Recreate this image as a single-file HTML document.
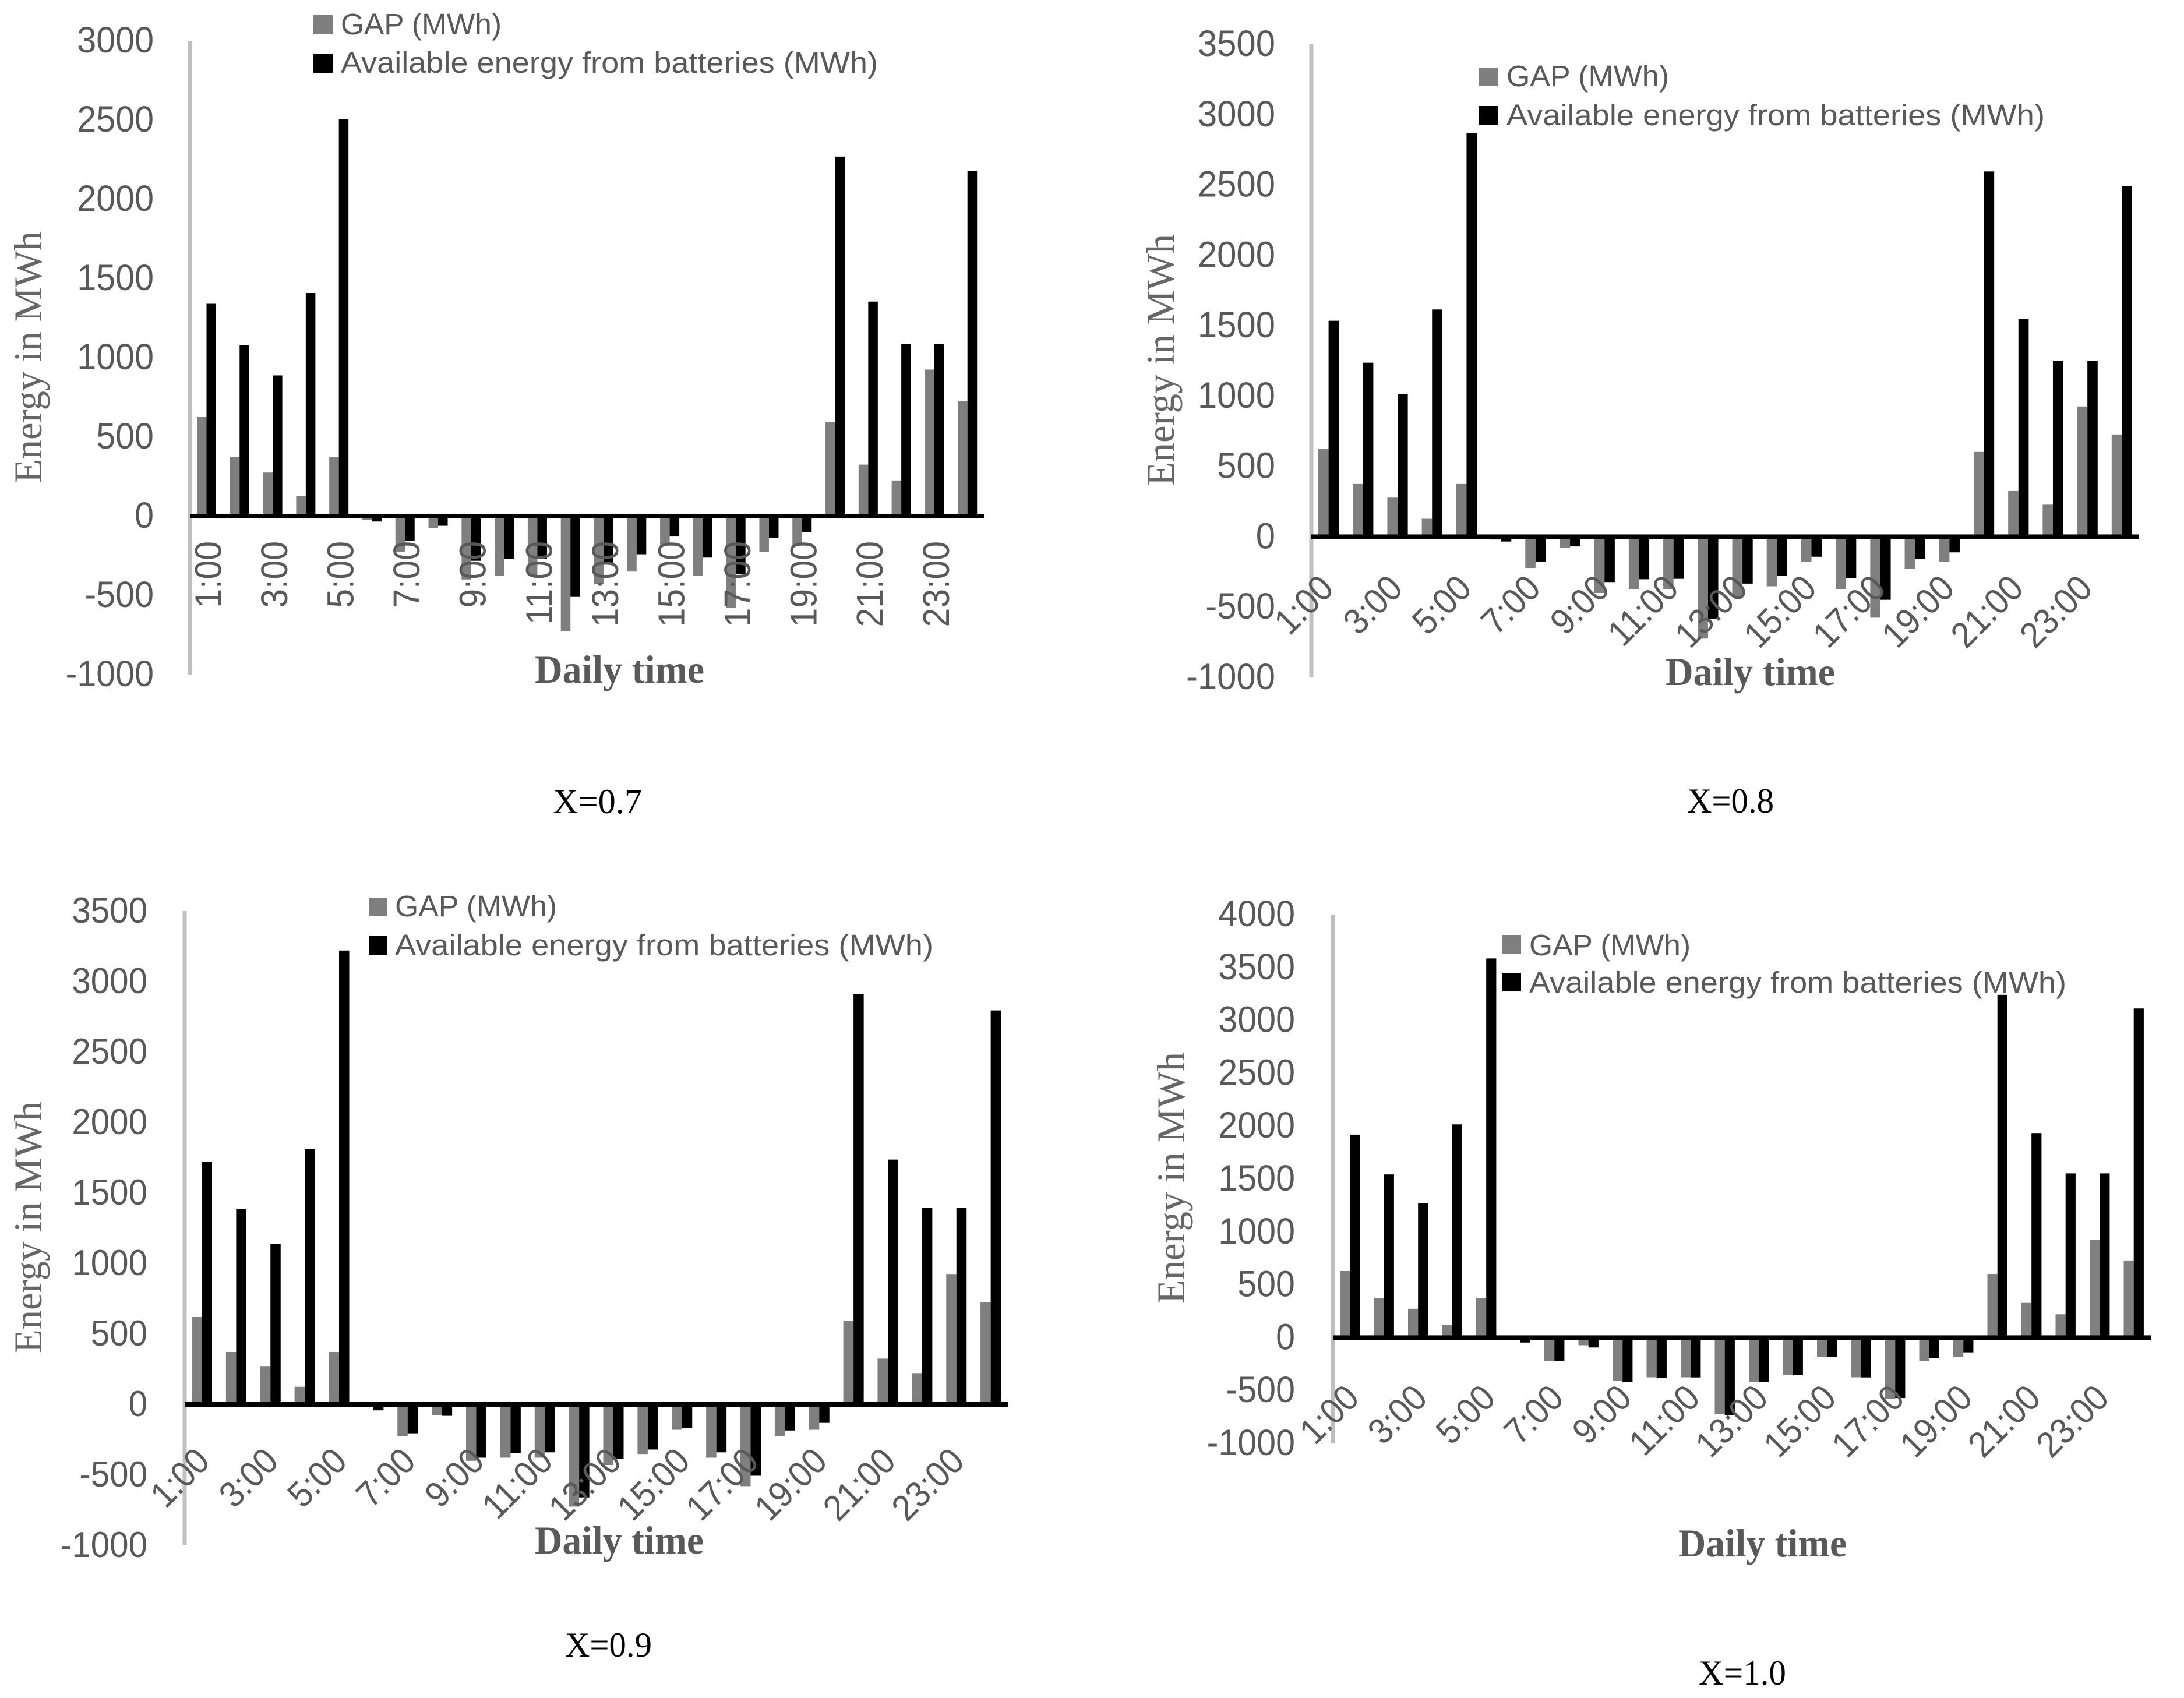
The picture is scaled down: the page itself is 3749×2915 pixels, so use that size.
<!DOCTYPE html>
<html lang="en">
<head>
<meta charset="utf-8">
<title>Energy gap and available battery energy by daily time</title>
<style>
html,body{margin:0;padding:0;background:#fff;}
svg{display:block;}
.leg{font-family:"Liberation Sans",sans-serif;font-size:51px;fill:#595959;}
.xt{font-family:"Liberation Serif",serif;font-weight:bold;font-size:68px;fill:#595959;}
.yt{font-family:"Liberation Serif",serif;font-size:68px;fill:#666;}
.cap{font-family:"Liberation Serif",serif;font-size:60px;fill:#000;}
</style>
</head>
<body>
<svg id="figure" xmlns="http://www.w3.org/2000/svg" width="3749" height="2915" viewBox="0 0 3749 2915">
<rect x="0" y="0" width="3749" height="2915" fill="#fff"/>

<g id="chart-a">
<g class="marks"></g>
<rect x="538" y="26" width="33" height="33" fill="#7f7f7f"/>
<text class="leg" x="585" y="59" textLength="276" lengthAdjust="spacingAndGlyphs">GAP (MWh)</text>
<rect x="538" y="92" width="33" height="33" fill="#000"/>
<text class="leg" x="585" y="125" textLength="922" lengthAdjust="spacingAndGlyphs">Available energy from batteries (MWh)</text>
<text class="xt" x="918" y="1172" textLength="291" lengthAdjust="spacingAndGlyphs">Daily time</text>
<text class="yt" transform="translate(71 829) rotate(-90)" textLength="432" lengthAdjust="spacingAndGlyphs">Energy in MWh</text>
<text class="cap" x="949" y="1396" textLength="153" lengthAdjust="spacingAndGlyphs">X=0.7</text>
</g>

<g id="chart-b">
<g class="marks"></g>
<rect x="2538" y="116" width="33" height="32" fill="#7f7f7f"/>
<text class="leg" x="2586" y="148" textLength="279" lengthAdjust="spacingAndGlyphs">GAP (MWh)</text>
<rect x="2538" y="182" width="33" height="32" fill="#000"/>
<text class="leg" x="2586" y="215" textLength="924" lengthAdjust="spacingAndGlyphs">Available energy from batteries (MWh)</text>
<text class="xt" x="2859" y="1176" textLength="291" lengthAdjust="spacingAndGlyphs">Daily time</text>
<text class="yt" transform="translate(2015 834) rotate(-90)" textLength="432" lengthAdjust="spacingAndGlyphs">Energy in MWh</text>
<text class="cap" x="2896" y="1395" textLength="149" lengthAdjust="spacingAndGlyphs">X=0.8</text>
</g>

<g id="chart-c">
<g class="marks"></g>
<rect x="633" y="1541" width="31" height="31" fill="#7f7f7f"/>
<text class="leg" x="678" y="1573" textLength="278" lengthAdjust="spacingAndGlyphs">GAP (MWh)</text>
<rect x="633" y="1607" width="31" height="32" fill="#000"/>
<text class="leg" x="678" y="1640" textLength="924" lengthAdjust="spacingAndGlyphs">Available energy from batteries (MWh)</text>
<text class="xt" x="918" y="2667" textLength="290" lengthAdjust="spacingAndGlyphs">Daily time</text>
<text class="yt" transform="translate(71 2323) rotate(-90)" textLength="432" lengthAdjust="spacingAndGlyphs">Energy in MWh</text>
<text class="cap" x="970" y="2844" textLength="149" lengthAdjust="spacingAndGlyphs">X=0.9</text>
</g>

<g id="chart-d">
<g class="marks"></g>
<rect x="2579" y="1605" width="32" height="32" fill="#7f7f7f"/>
<text class="leg" x="2625" y="1640" textLength="277" lengthAdjust="spacingAndGlyphs">GAP (MWh)</text>
<rect x="2579" y="1670" width="32" height="32" fill="#000"/>
<text class="leg" x="2625" y="1704" textLength="922" lengthAdjust="spacingAndGlyphs">Available energy from batteries (MWh)</text>
<text class="xt" x="2881" y="2672" textLength="289" lengthAdjust="spacingAndGlyphs">Daily time</text>
<text class="yt" transform="translate(2033 2238) rotate(-90)" textLength="432" lengthAdjust="spacingAndGlyphs">Energy in MWh</text>
<text class="cap" x="2916" y="2892" textLength="150" lengthAdjust="spacingAndGlyphs">X=1.0</text>
</g>
</svg>

<script>
var hours = ['1:00','2:00','3:00','4:00','5:00','6:00','7:00','8:00','9:00','10:00','11:00','12:00','13:00','14:00','15:00','16:00','17:00','18:00','19:00','20:00','21:00','22:00','23:00','24:00'];

var ticksA = [3000,2500,2000,1500,1000,500,0,-500,-1000];
var ticksB = [3500,3000,2500,2000,1500,1000,500,0,-500,-1000];
var ticksC = [3500,3000,2500,2000,1500,1000,500,0,-500,-1000];
var ticksD = [4000,3500,3000,2500,2000,1500,1000,500,0,-500,-1000];

var gapA = [625,375,275,125,375,-25,-225,-75,-400,-375,-375,-725,-430,-350,-180,-375,-580,-225,-180,595,325,225,925,725];
var gapB = [625,375,278,128,375,-20,-222,-77,-400,-375,-375,-724,-430,-352,-176,-375,-575,-226,-176,603,325,228,926,727];
var gapC = [620,372,272,125,372,-20,-225,-78,-400,-378,-378,-725,-430,-352,-180,-378,-580,-225,-180,595,325,222,925,725];
var gapD = [630,375,273,123,375,-20,-221,-72,-410,-375,-375,-725,-420,-350,-180,-375,-580,-221,-180,602,329,221,926,730];

var batteryA = [1340,1078,888,1408,2507,-34,-156,-61,-282,-269,-270,-510,-300,-241,-129,-262,-367,-136,-99,2269,1354,1085,1085,2177];
var batteryB = [1535,1237,1015,1615,2867,-34,-176,-69,-322,-302,-299,-582,-333,-279,-142,-295,-448,-157,-111,2596,1547,1248,1248,2492];
var batteryC = [1722,1386,1139,1811,3220,-42,-205,-81,-378,-344,-340,-660,-386,-320,-166,-340,-506,-185,-131,2911,1737,1394,1394,2795];
var batteryD = [1919,1543,1271,2016,3585,-46,-221,-93,-417,-381,-376,-730,-422,-355,-180,-376,-571,-195,-139,3241,1934,1553,1553,3112];

var NS = 'http://www.w3.org/2000/svg';

function addRect(parent, x, y, w, h, fill) {
  var r = document.createElementNS(NS, 'rect');
  r.setAttribute('x', x);
  r.setAttribute('y', y);
  r.setAttribute('width', w);
  r.setAttribute('height', h);
  r.setAttribute('fill', fill);
  parent.appendChild(r);
  return r;
}

function addText(parent, str, size) {
  var t = document.createElementNS(NS, 'text');
  t.textContent = str;
  t.setAttribute('font-family', '"Liberation Sans", sans-serif');
  t.setAttribute('font-size', size);
  t.setAttribute('fill', '#595959');
  parent.appendChild(t);
  return t;
}

function drawChart(chartId, ticks, gap, battery, box) {
  var marks = document.querySelector('#' + chartId + ' .marks');
  var tickMax = ticks[0];
  var tickMin = ticks[ticks.length - 1];
  var step = (box.right - box.left) / hours.length;

  function yScale(v) {
    return box.top + (tickMax - v) / (tickMax - tickMin) * (box.bottom - box.top);
  }
  function xScale(i) {
    return box.left + i * step;
  }

  var yLine = addRect(marks, box.left - 3.5, box.top, 7, box.bottom - box.top, '#bfbfbf');
  
  

  hours.forEach(function (label, i) {
    var x0 = xScale(i) + box.inset;
    var zero = yScale(0);
    var yGap = yScale(gap[i]);
    var gapBar = addRect(marks, x0, Math.min(zero, yGap), box.barW, Math.abs(yGap - zero), '#7f7f7f');
    
    
    var yBat = yScale(battery[i]);
    var batBar = addRect(marks, x0 + box.barW, Math.min(zero, yBat), box.barW, Math.abs(yBat - zero), '#000');
    
    
  });

  var zeroLine = addRect(marks, box.left, yScale(0) - 4, box.right - box.left, 8, '#000');
  
  

  ticks.forEach(function (v) {
    var t = addText(marks, String(v), box.tickSize);
    
    
    t.setAttribute('text-anchor', 'end');
    t.setAttribute('transform', 'translate(' + box.tickRight + ' ' + (yScale(v) + 20) + ') scale(' + box.tickSquash + ' 1)');
  });

  hours.forEach(function (label, i) {
    if (i % 2 !== 0) { return; }
    var px = xScale(i) + step / 2 + box.labelDx;
    var py = yScale(0) + box.labelDy;
    var t = addText(marks, label, box.labelSize);
    
    
    t.setAttribute('text-anchor', 'end');
    t.setAttribute('transform', 'translate(' + px + ' ' + py + ') rotate(' + box.labelAngle + ') scale(' + box.labelSquash + ' 1)');
  });
}

drawChart('chart-a', ticksA, gapA, batteryA, {left:326, right:1689, top:70, bottom:1158, inset:12, barW:16.5, tickRight:264, tickSize:63, tickSquash:0.94, labelDx:25, labelDy:43, labelSize:64, labelSquash:0.92, labelAngle:-90});
drawChart('chart-b', ticksB, gapB, batteryB, {left:2251, right:3672, top:76, bottom:1163, inset:12, barW:17.6, tickRight:2189, tickSize:63, tickSquash:0.95, labelDx:12, labelDy:92, labelSize:62, labelSquash:0.93, labelAngle:-45});
drawChart('chart-c', ticksC, gapC, batteryC, {left:317, right:1730, top:1564, bottom:2653, inset:12, barW:17.5, tickRight:253, tickSize:62, tickSquash:0.94, labelDx:17, labelDy:101, labelSize:62, labelSquash:0.93, labelAngle:-45});
drawChart('chart-d', ticksD, gapD, batteryD, {left:2288, right:3692, top:1570, bottom:2478, inset:12, barW:17.2, tickRight:2223, tickSize:63, tickSquash:0.94, labelDx:19, labelDy:107, labelSize:62, labelSquash:0.93, labelAngle:-45});
</script>
</body>
</html>
